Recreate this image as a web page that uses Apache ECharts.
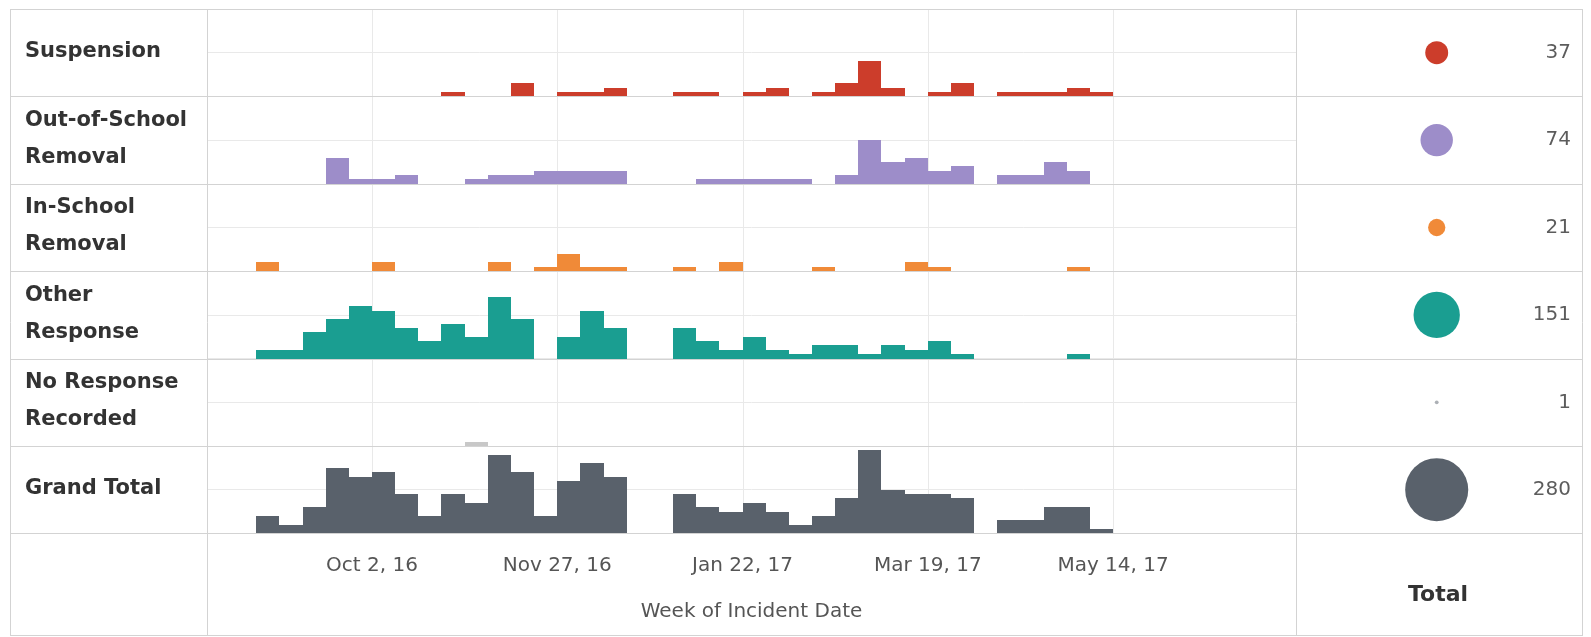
<!DOCTYPE html>
<html>
<head>
<meta charset="utf-8">
<script src="https://cdn.jsdelivr.net/npm/echarts@6/dist/echarts.min.js"></script>
<style>
  html, body { margin: 0; padding: 0; background: #fff; }
  #main { width: 1591px; height: 637px; }
</style>
</head>
<body>
<div id="main"></div>
<script>
// weekly counts, week 0 = Aug 28, 16 ... week 36 = May 7, 17
var suspension  = [0,0,0,0,0,0,0,0,1,0,0,3,0,1,1,2,0,0,1,1,0,1,2,0,1,3,8,2,0,1,3,0,1,1,1,2,1];
var outOfSchool = [0,0,0,6,1,1,2,0,0,1,2,2,3,3,3,3,0,0,0,1,1,1,1,1,0,2,10,5,6,3,4,0,2,2,5,3,0];
var inSchool    = [2,0,0,0,0,2,0,0,0,0,2,0,1,4,1,1,0,0,1,0,2,0,0,0,1,0,0,0,2,1,0,0,0,0,0,1,0];
var otherResp   = [2,2,6,9,12,11,7,4,8,5,14,9,0,5,11,7,0,0,7,4,2,5,2,1,3,3,1,3,2,4,1,0,0,0,0,1,0];
var noResponse  = [0,0,0,0,0,0,0,0,0,1,0,0,0,0,0,0,0,0,0,0,0,0,0,0,0,0,0,0,0,0,0,0,0,0,0,0,0];
var grandTotal  = [4,2,6,15,13,14,9,4,9,7,18,14,4,12,16,13,0,0,9,6,5,7,5,2,4,8,19,10,9,9,8,0,3,3,6,6,1];

var rowNames = ['Suspension', 'Out-of-School\nRemoval', 'In-School\nRemoval', 'Other\nResponse', 'No Response\nRecorded', 'Grand Total'];
var totals = [37, 74, 21, 151, 1, 280];
var tickWeeks = [5, 13, 21, 29, 37];
var tickLabels = ['Oct 2, 16', 'Nov 27, 16', 'Jan 22, 17', 'Mar 19, 17', 'May 14, 17'];

var colors = ['#cc3d2b', '#9d8dc9', '#f08a38', '#1a9e91', '#c8c8c8', '#59616b'];
var rows = [suspension, outOfSchool, inSchool, otherResp, noResponse, grandTotal];

// layout
var rowTop = 9, rowH = 87.4, frameL = 10, plotL = 207, plotR = 1296, frameR = 1582;
var XMIN = -2.124, XMAX = 44.9;
var lineCol = '#d3d3d3', gridCol = '#e9e9e9';

var myChart = echarts.init(document.getElementById('main'));

var grid = [], xAxis = [], yAxis = [], series = [];
for (var i = 0; i < rows.length; i++) {
  grid.push({left: plotL, width: plotR - plotL, top: rowTop + i * rowH, height: rowH});
  var last = i === rows.length - 1;
  xAxis.push({
    type: 'value', gridIndex: i, min: XMIN, max: XMAX,
    splitLine: {show: false}, axisLine: {show: false}, axisTick: {show: false},
    axisLabel: last ? {
      show: true, customValues: tickWeeks, margin: 22,
      fontFamily: 'DejaVu Sans', fontSize: 20, color: '#555',
      formatter: function (v) { return tickLabels[tickWeeks.indexOf(v)]; }
    } : {show: false},
    name: last ? 'Week of Incident Date' : '',
    nameLocation: 'middle', nameGap: 68,
    nameTextStyle: {fontFamily: 'DejaVu Sans', fontSize: 20, color: '#555'}
  });
  yAxis.push({
    type: 'value', gridIndex: i, min: 0, max: 20, interval: 10,
    axisLabel: {show: false}, axisLine: {show: false}, axisTick: {show: false},
    splitLine: {lineStyle: {color: gridCol}}
  });
  // vertical week gridlines, under the bars
  series.push({
    type: 'custom', xAxisIndex: i, yAxisIndex: i, z: 1, silent: true,
    data: tickWeeks.map(function (w) { return [w, 0]; }),
    encode: {x: 0, y: 1},
    renderItem: function (params, api) {
      var top = api.coord([api.value(0), 20]);
      var bot = api.coord([api.value(0), 0]);
      var x = Math.round(top[0]) + 0.5;
      return {type: 'line', shape: {x1: x, y1: top[1], x2: x, y2: bot[1]}, style: {stroke: gridCol, lineWidth: 1}};
    }
  });
  (function (idx) {
    series.push({
      type: 'custom', xAxisIndex: idx, yAxisIndex: idx, z: 2,
      data: rows[idx].map(function (v, w) { return [w, v]; }).filter(function (d) { return d[1] > 0; }),
      encode: {x: 0, y: 1},
      renderItem: function (params, api) {
        var w = api.value(0), v = api.value(1);
        var p0 = api.coord([w, v]);
        var p1 = api.coord([w + 1, 0]);
        var x0 = Math.round(p0[0]), x1 = Math.round(p1[0]);
        var y0 = Math.round(p0[1]), y1 = Math.round(p1[1]);
        return {
          type: 'rect',
          shape: {x: x0, y: y0, width: x1 - x0, height: y1 - y0},
          style: {fill: colors[idx]}
        };
      }
    });
  })(i);
}

// total column
grid.push({left: plotR, width: frameR - plotR, top: rowTop, height: rowH * rows.length});
xAxis.push({
  type: 'value', gridIndex: 6, min: 0, max: 1,
  splitLine: {show: false}, axisLine: {show: false}, axisTick: {show: false}, axisLabel: {show: false}
});
yAxis.push({type: 'category', gridIndex: 6, inverse: true, data: rowNames, show: false});
series.push({
  type: 'scatter', xAxisIndex: 6, yAxisIndex: 6, silent: true,
  data: totals.map(function (t, i) { return {value: [0.492, i, t], itemStyle: {color: colors[i === 4 ? 5 : i], opacity: i === 4 ? 0.5 : 1}}; }),
  symbolSize: function (val) { return 3.77 * Math.sqrt(val[2]); }
});
series.push({
  type: 'scatter', xAxisIndex: 6, yAxisIndex: 6, silent: true, symbolSize: 0,
  data: totals.map(function (t, i) { return [0.9615, i, t]; }),
  label: {
    show: true, position: 'left', distance: 0,
    fontFamily: 'DejaVu Sans', fontSize: 20, color: '#333',
    formatter: function (p) { return p.value[2]; }
  }
});

// table frame and row labels
var graphic = [];
function hline(y, x1, x2) {
  graphic.push({type: 'line', z: 100, silent: true, shape: {x1: x1, y1: y, x2: x2, y2: y}, style: {stroke: lineCol, lineWidth: 1}});
}
function vline(x, y1, y2) {
  graphic.push({type: 'line', z: 100, silent: true, shape: {x1: x, y1: y1, x2: x, y2: y2}, style: {stroke: lineCol, lineWidth: 1}});
}
for (var r = 0; r <= rows.length; r++) {
  hline(Math.round(rowTop + r * rowH) + 0.5, frameL, frameR);
}
hline(635.5, frameL, frameR);
vline(frameL + 0.5, rowTop, 636);
vline(plotL + 0.5, rowTop, 636);
vline(plotR + 0.5, rowTop, 636);
vline(frameR + 0.5, rowTop, 636);
// "Total" column header
graphic.push({
  type: 'text', z: 100, silent: true, x: 1438, y: 595,
  style: {text: 'Total', fill: '#333', font: 'bold 22px "DejaVu Sans"', align: 'center', verticalAlign: 'middle'}
});
rowNames.forEach(function (name, i) {
  graphic.push({
    type: 'text', z: 100, silent: true, x: 25, y: rowTop + i * rowH + rowH / 2 - 1,
    style: {
      text: name, fill: '#333', font: 'bold 21px "DejaVu Sans"',
      verticalAlign: 'middle', lineHeight: 37
    }
  });
});

var option = {
  animation: false,
  grid: grid,
  xAxis: xAxis,
  yAxis: yAxis,
  series: series,
  graphic: graphic
};
myChart.setOption(option);
</script>
</body>
</html>
